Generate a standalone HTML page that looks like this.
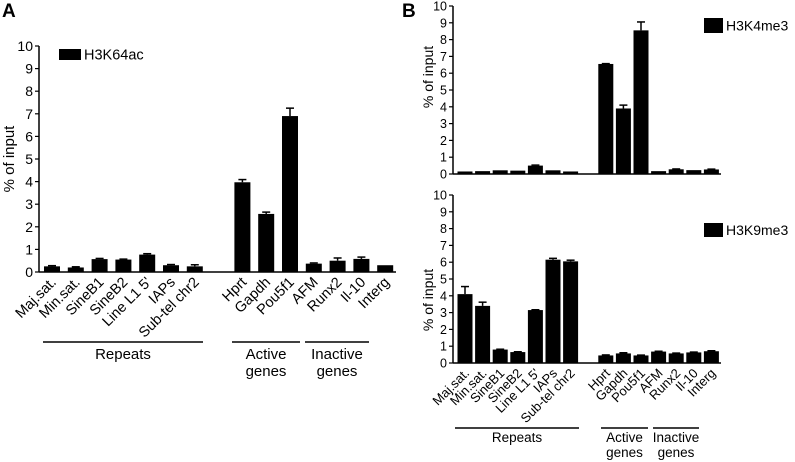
<!DOCTYPE html>
<html><head><meta charset="utf-8"><style>
body{margin:0;background:#fff;}
svg{display:block;font-family:"Liberation Sans",Arial,sans-serif;}
</style></head><body>
<svg id="c" width="795" height="462" viewBox="0 0 795 462" xmlns="http://www.w3.org/2000/svg"></svg>
<script>
const categories = ["Maj.sat.","Min.sat.","SineB1","SineB2","Line L1 5'","IAPs","Sub-tel chr2","Hprt","Gapdh","Pou5f1","AFM","Runx2","Il-10","Interg"];
const slots = [0,1,2,3,4,5,6,8,9,10,11,12,13,14];
const h3k64acValues = [0.25,0.2,0.57,0.55,0.77,0.3,0.25,3.97,2.57,6.9,0.37,0.5,0.58,0.3];
const h3k64acErrors = [0.03,0.03,0.03,0.02,0.04,0.03,0.07,0.12,0.08,0.35,0.03,0.12,0.08,0];
const h3k4me3Values = [0.15,0.17,0.22,0.2,0.5,0.22,0.15,6.55,3.9,8.55,0.17,0.28,0.23,0.27];
const h3k4me3Errors = [0,0,0,0,0.03,0,0,0.02,0.2,0.5,0,0.02,0,0.02];
const h3k9me3Values = [4.1,3.4,0.8,0.65,3.15,6.15,6.05,0.45,0.57,0.45,0.68,0.57,0.63,0.7];
const h3k9me3Errors = [0.45,0.22,0.02,0.02,0.02,0.08,0.07,0.03,0.04,0.02,0.02,0.02,0.02,0.03];
const yTicks = [0,1,2,3,4,5,6,7,8,9,10];

const svg = document.getElementById('c');
const NS = 'http://www.w3.org/2000/svg';
function mk(tag, attrs, parent, text){
  const e = document.createElementNS(NS, tag);
  for (const k in attrs) e.setAttribute(k, attrs[k]);
  if (text !== undefined) e.textContent = text;
  (parent || svg).appendChild(e);
  return e;
}

function panel(cfg){
  const g = mk('g', {});
  
  
  const yScale = v => cfg.y0 - (cfg.y0 - cfg.y10) * v / 10;
  const xScale = s => cfg.x0 + s * cfg.step;
  const ya = mk('line', {x1:cfg.ax, y1:cfg.y10, x2:cfg.ax, y2:cfg.y0, stroke:'#000','stroke-width':1.5}, g);
  
  
  const xa = mk('line', {x1:cfg.ax, y1:cfg.y0, x2:cfg.xend, y2:cfg.y0, stroke:'#000','stroke-width':1.5}, g);
  
  
  yTicks.forEach(t => {
    const y = yScale(t);
    mk('line', {x1:cfg.ax-4, y1:y, x2:cfg.ax, y2:y, stroke:'#000','stroke-width':1.2}, g);
    const tl = mk('text', {x:cfg.ax-6, y:y+cfg.tfs*0.36, 'text-anchor':'end', 'font-size':cfg.tfs}, g, String(t));
    
    
  });
  const yt = mk('text', {transform:`translate(${cfg.ytx},${cfg.yty}) rotate(-90)`, 'text-anchor':'middle', 'font-size':cfg.yfs}, g, '% of input');
  
  
  cfg.values.forEach((v, i) => {
    const cx = xScale(slots[i]);
    const top = yScale(v);
    const b = mk('rect', {x:cx - cfg.bw/2, y:top, width:cfg.bw, height:cfg.y0 - top, fill:'#000'}, g);
    
    
    const e = cfg.errors[i];
    if (e > 0) {
      const ey = yScale(v + e);
      mk('line', {x1:cx, y1:top, x2:cx, y2:ey, stroke:'#000','stroke-width':1.5}, g);
      mk('line', {x1:cx-4, y1:ey, x2:cx+4, y2:ey, stroke:'#000','stroke-width':1.5}, g);
    }
    if (cfg.labels) {
      const lx = cx + 5, ly = cfg.y0 + 11;
      const t = mk('text', {transform:`translate(${lx},${ly}) rotate(-45)`, 'text-anchor':'end', 'font-size':cfg.lfs}, g, categories[i]);
      
      
    }
  });
  const lr = mk('rect', {x:cfg.legx, y:cfg.legy, width:cfg.legw, height:cfg.legh, fill:'#000'}, g);
  
  
  const lt = mk('text', {x:cfg.legx + cfg.legw + 3, y:cfg.legy + cfg.legh/2 + 5, 'font-size':cfg.legfs}, g, cfg.legend);
  
  
}

function groups(y, ty, fs, lh, items){
  items.forEach(it => {
    const l = mk('line', {x1:it[0], y1:y, x2:it[1], y2:y, stroke:'#000','stroke-width':1.5});
    
    
    it[2].forEach((s, k) => {
      const t = mk('text', {x:(it[0]+it[1])/2, y:ty + k*lh, 'text-anchor':'middle', 'font-size':fs}, svg, s);
      
      
    });
  });
}

const A = mk('text', {x:2, y:17, 'font-size':19, 'font-weight':'bold'}, svg, 'A');


const B = mk('text', {x:402, y:17, 'font-size':19, 'font-weight':'bold'}, svg, 'B');



panel({name:'chart-h3k64ac', ax:39, xend:396, y0:272, y10:46, x0:52, step:23.8, bw:16, values:h3k64acValues, errors:h3k64acErrors, labels:true, lfs:14.5, tfs:14, yfs:15, ytx:14, yty:159, legx:59, legy:49, legw:22, legh:11, legend:'H3K64ac', legfs:14.5});
groups(342, 359, 15, 17, [[43,203,['Repeats']],[232,300,['Active','genes']],[305,369,['Inactive','genes']]]);

panel({name:'chart-h3k4me3', ax:453, xend:721, y0:174, y10:6, x0:465, step:17.6, bw:15, values:h3k4me3Values, errors:h3k4me3Errors, labels:false, tfs:12.5, yfs:14, ytx:433, yty:77, legx:704, legy:18, legw:19, legh:15, legend:'H3K4me3', legfs:14});
panel({name:'chart-h3k9me3', ax:453, xend:721, y0:363, y10:195, x0:465, step:17.6, bw:15, values:h3k9me3Values, errors:h3k9me3Errors, labels:true, lfs:13, tfs:12.5, yfs:14, ytx:433, yty:300, legx:704, legy:223, legw:19, legh:14, legend:'H3K9me3', legfs:14});
groups(428, 442, 13.5, 15, [[455,579,['Repeats']],[601,648,['Active','genes']],[653,699,['Inactive','genes']]]);
</script>
</body></html>
